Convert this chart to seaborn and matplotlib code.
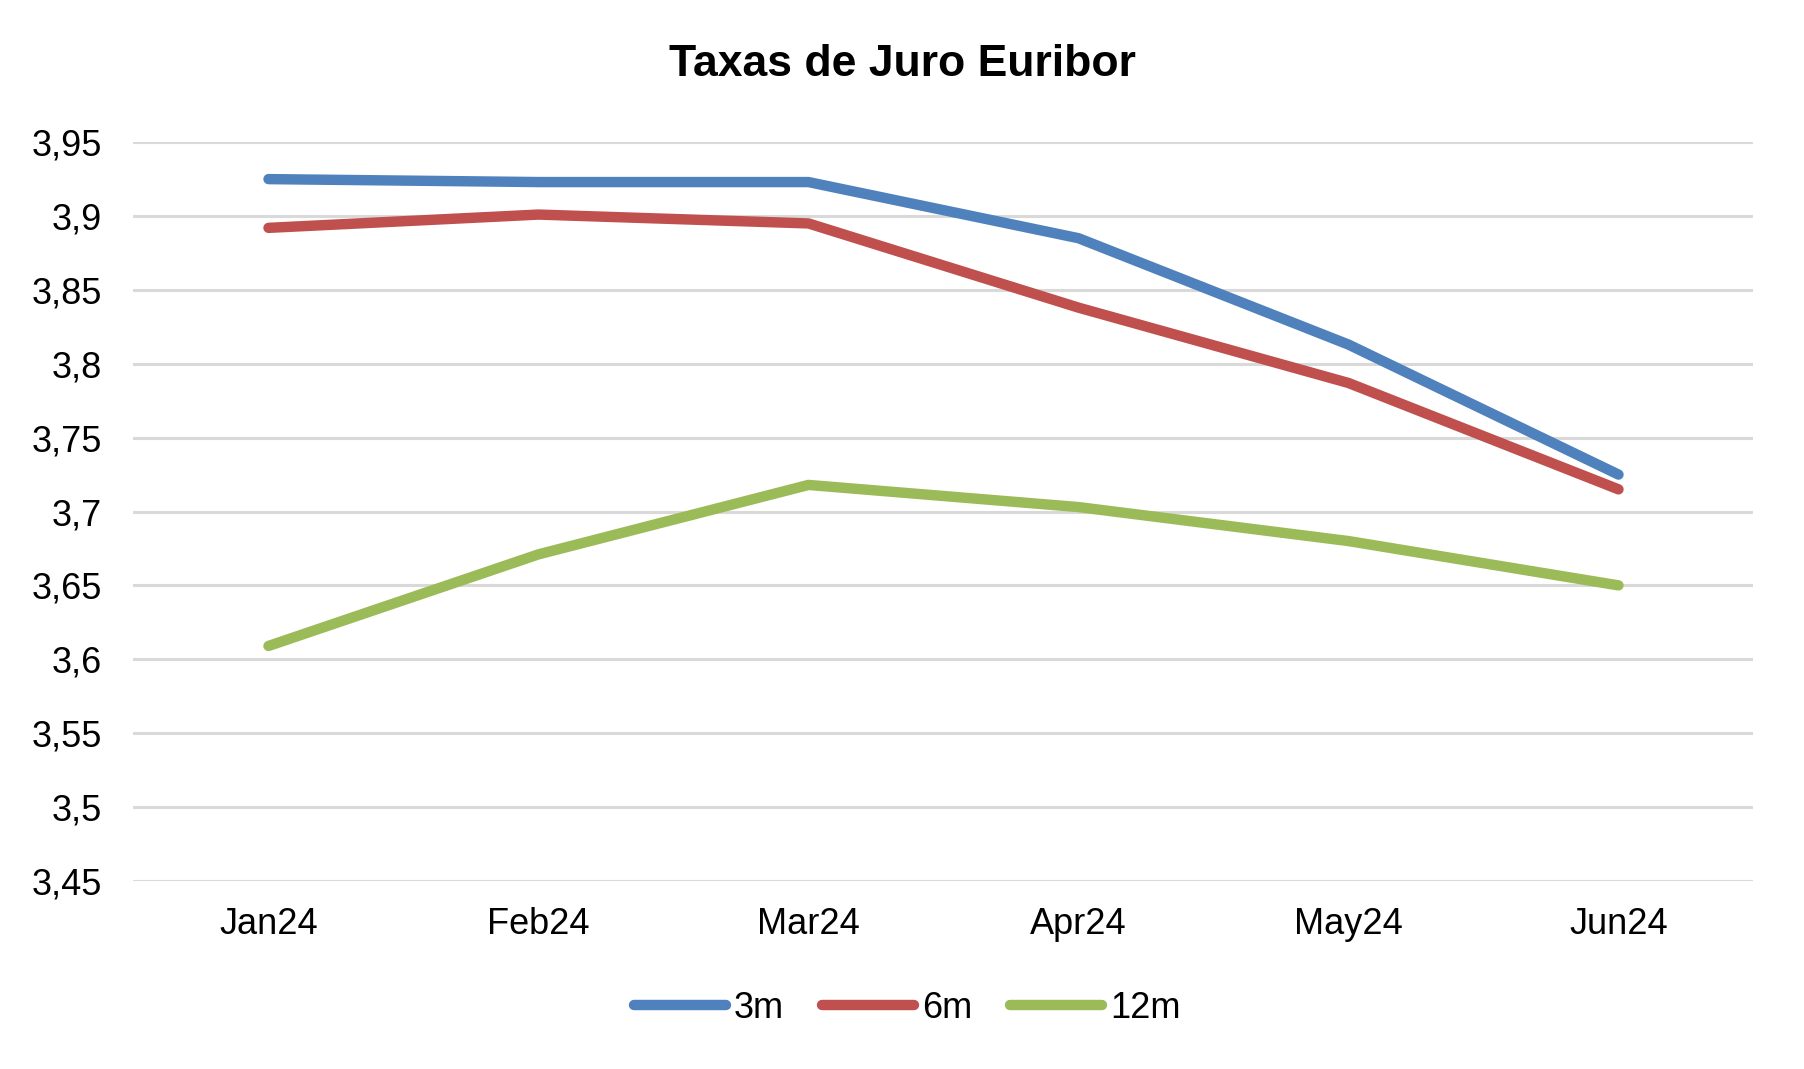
import matplotlib
matplotlib.use("Agg")
import matplotlib.pyplot as plt
import seaborn as sns
import pandas as pd

months = ["Jan24", "Feb24", "Mar24", "Apr24", "May24", "Jun24"]
rate_3m = [3.925, 3.923, 3.923, 3.885, 3.813, 3.725]
rate_6m = [3.892, 3.901, 3.895, 3.838, 3.787, 3.715]
rate_12m = [3.609, 3.671, 3.718, 3.703, 3.680, 3.650]
series = ["3m", "6m", "12m"]
colors = ["#4F81BD", "#C0504D", "#9BBB59"]

# long format for seaborn
df = pd.DataFrame({
    "Mes": months * 3,
    "Taxa": rate_3m + rate_6m + rate_12m,
    "Prazo": [s for s in series for _ in months],
})
df["pos"] = df["Mes"].map({m: i for i, m in enumerate(months)})

sns.set_style("white")
plt.rcParams["font.family"] = ["Liberation Sans", "DejaVu Sans"]
plt.rcParams["text.color"] = "black"

fig = plt.figure(figsize=(18.04, 10.69), dpi=100)
ax = fig.add_axes([0.074, 0.176, 0.898, 0.691])

sns.lineplot(
    data=df, x="pos", y="Taxa", hue="Prazo",
    palette=dict(zip(series, colors)), linewidth=7.5,
    ax=ax, legend=False,
)
for line in ax.get_lines():
    line.set_solid_capstyle("round")
    line.set_solid_joinstyle("round")

ax.set_xlim(-0.5, 5.5)
ax.set_ylim(3.45, 3.95)
ax.set_xticks(range(len(months)))
ax.set_xticklabels(months)
yt = [3.45 + 0.05 * i for i in range(11)]
ax.set_yticks(yt)
ax.set_yticklabels([("%.2f" % v).rstrip("0").replace(".", ",") for v in yt])
ax.tick_params(axis="both", length=0, labelsize=26, colors="black")
ax.tick_params(axis="x", pad=19)
ax.tick_params(axis="y", pad=23)
ax.grid(axis="y", color="#D9D9D9", linewidth=2.2)
ax.set_axisbelow(True)
for s in ax.spines.values():
    s.set_visible(False)
ax.set_xlabel("")
ax.set_ylabel("")

fig.suptitle("Taxas de Juro Euribor", fontsize=32, fontweight="bold",
             color="black", y=0.94, va="center")

handles = [plt.Line2D([0], [0], color=c, linewidth=7.5, solid_capstyle="round") for c in colors]
fig.legend(handles, series, loc="center", bbox_to_anchor=(0.503, 0.057), ncol=3,
           frameon=False, fontsize=26, handlelength=2.55, handletextpad=0.22,
           columnspacing=1.05, labelcolor="black")

fig.savefig("out.png", dpi=100)
